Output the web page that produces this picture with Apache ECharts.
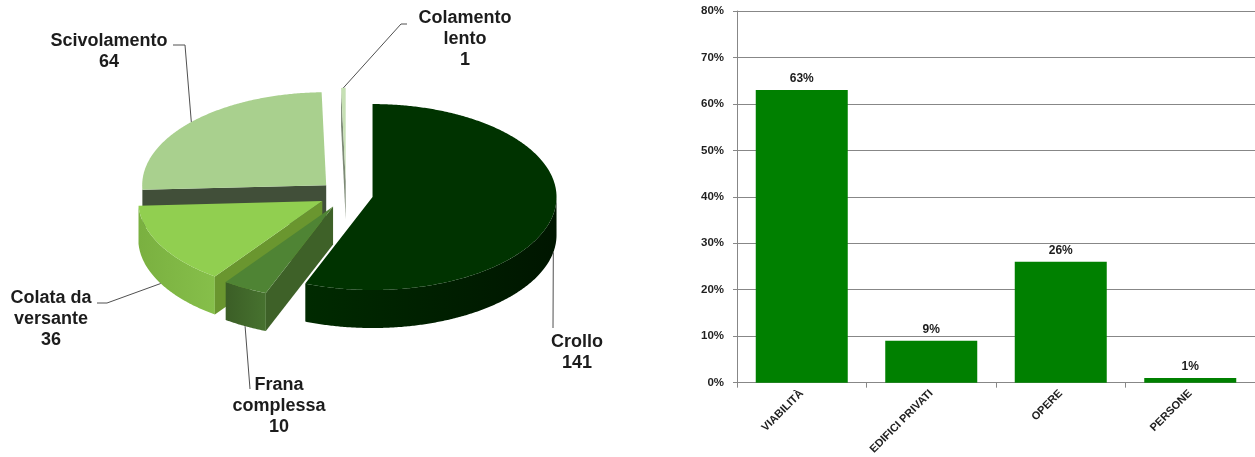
<!DOCTYPE html>
<html>
<head>
<meta charset="utf-8">
<script src="https://cdn.jsdelivr.net/npm/echarts/dist/echarts.min.js"></script>
<style>
  html, body { margin: 0; padding: 0; background: #ffffff; }
  #chart { width: 1255px; height: 457px; }
</style>
</head>
<body>
<div id="chart"></div>
<script>
// Landslide types (counts), clockwise from 12 o'clock
const sliceNames = ['Crollo', 'Frana\ncomplessa', 'Colata da\nversante', 'Scivolamento', 'Colamento\nlento'];
const sliceValues = [141, 10, 36, 64, 1];

// Damage distribution (%)
const damageCategories = ['VIABILITÀ', 'EDIFICI PRIVATI', 'OPERE', 'PERSONE'];
const damageShares = [63, 9, 26, 1];

// 3D exploded pie geometry (pixels)
const PIE = { cx: 346, cy: 194.5, rx: 184, ry: 93, depth: 38, explode: 27 };

// Slice colours: top face, side wall gradient, radial cut face
const sliceStyles = [
  { top: '#003300', wallA: '#002a00', wallB: '#001600', face: '#002400' },
  { top: '#4f8434', wallA: '#3b5e26', wallB: '#47722f', face: '#3e6128' },
  { top: '#91cf50', wallA: '#7ab040', wallB: '#86bf4a', face: '#6a962f' },
  { top: '#a9d08e', wallA: '#7f9f6b', wallB: '#7f9f6b', face: '#414f39' },
  { top: '#c6e0b4', wallA: '#9ab88a', wallB: '#9ab88a', face: '#7d8a76' }
];

// Label blocks and leader bends for each slice
const labelLayout = [
  { text: [577, 331.5], bends: [[553, 328]] },
  { text: [279, 374.5], bends: [[250, 389]] },
  { text: [51, 287.5], bends: [[107, 303], [97, 303]] },
  { text: [109, 31], bends: [[185, 45], [173, 45]] },
  { text: [465, 8], bends: [[401, 24], [407, 24]] }
];

const sliceTotal = sliceValues.reduce((s, v) => s + v, 0);
const sliceStart = [];
sliceValues.reduce((acc, v, i) => { sliceStart[i] = acc; return acc + v; }, 0);

const RAD = Math.PI / 180;
function rimPoint(ox, oy, deg, drop) {
  return [ox + PIE.rx * Math.sin(deg * RAD), oy - PIE.ry * Math.cos(deg * RAD) + (drop || 0)];
}
function arc(ox, oy, a, b, drop) {
  const pts = [];
  const n = Math.max(2, Math.ceil(Math.abs(b - a) / 0.5));
  for (let k = 0; k <= n; k++) pts.push(rimPoint(ox, oy, a + (b - a) * k / n, drop));
  return pts;
}
// side pieces nearer the viewer (lower on screen) are painted later
function depthOrder(points) {
  const cy = points.reduce((s, p) => s + p[1], 0) / points.length;
  return 10 + Math.round(cy / 10);
}

function renderSlice(params, api) {
  const i = params.dataIndex;
  const value = api.value(0);
  const a0 = sliceStart[i] / sliceTotal * 360;
  const a1 = a0 + value / sliceTotal * 360;
  const mid = (a0 + a1) / 2;
  const st = sliceStyles[i];
  const D = PIE.depth;

  // exploded apex
  const ox = PIE.cx + PIE.explode * Math.sin(mid * RAD);
  const oy = PIE.cy - PIE.explode * (PIE.ry / PIE.rx) * Math.cos(mid * RAD);

  const children = [];

  // outer wall: only the front half (90..270 deg) faces the viewer
  const ws = Math.max(a0, 90), we = Math.min(a1, 270);
  if (we > ws) {
    const topArc = arc(ox, oy, ws, we, 0);
    const botArc = arc(ox, oy, we, ws, D);
    const pts = topArc.concat(botArc);
    const xs = topArc.map(p => p[0]);
    const x0 = Math.min.apply(null, xs), x1 = Math.max.apply(null, xs);
    children.push({
      type: 'polygon', z2: depthOrder(pts),
      shape: { points: pts },
      style: {
        fill: {
          type: 'linear', x: x0, y: 0, x2: x1, y2: 0, global: true,
          colorStops: [{ offset: 0, color: st.wallA }, { offset: 1, color: st.wallB }]
        }
      }
    });
  }

  // radial cut faces facing the viewer
  const faceAt = (deg) => {
    const r = rimPoint(ox, oy, deg, 0);
    return [[ox, oy], r, [r[0], r[1] + D], [ox, oy + D]];
  };
  if (Math.sin(a0 * RAD) < -1e-6) {
    const pts = faceAt(a0);
    children.push({ type: 'polygon', z2: depthOrder(pts), shape: { points: pts }, style: { fill: st.face } });
  }
  if (Math.sin(a1 * RAD) > 1e-6) {
    const pts = faceAt(a1);
    children.push({ type: 'polygon', z2: depthOrder(pts), shape: { points: pts }, style: { fill: st.face } });
  }

  // top face
  children.push({
    type: 'polygon', z2: 100,
    shape: { points: [[ox, oy]].concat(arc(ox, oy, a0, a1, 0)) },
    style: { fill: st.top }
  });

  // leader line: rim at mid-angle, dropped to the wall bottom on the front half
  const front = mid > 90 && mid < 270;
  const anchor = rimPoint(ox, oy, mid, front ? D : 0);
  const lay = labelLayout[i];
  children.push({
    type: 'polyline', z2: 120,
    shape: { points: [anchor].concat(lay.bends) },
    style: { stroke: '#505050', lineWidth: 1, fill: null }
  });

  // label block: name and count
  children.push({
    type: 'text', z2: 130,
    style: {
      text: sliceNames[i] + '\n' + value,
      x: lay.text[0], y: lay.text[1],
      align: 'center', textAlign: 'center',
      verticalAlign: 'top', textVerticalAlign: 'top',
      font: 'bold 18px "Liberation Sans", Arial, sans-serif',
      lineHeight: 21,
      fill: '#1c1c1c'
    }
  });

  return { type: 'group', children: children };
}

const chart = echarts.init(document.getElementById('chart'), null, { renderer: 'canvas' });

const axisGray = '#878787';
const labelFont = '"Liberation Sans", Arial, sans-serif';

chart.setOption({
  animation: false,
  backgroundColor: '#ffffff',
  grid: { left: 737, right: 0, top: 11, bottom: 72, containLabel: false },
  xAxis: {
    type: 'category',
    data: damageCategories,
    boundaryGap: true,
    axisLine: { show: true, lineStyle: { color: axisGray, width: 1 } },
    axisTick: { show: true, alignWithLabel: false, length: 5, lineStyle: { color: axisGray } },
    axisLabel: {
      interval: 0, rotate: 45, margin: 9,
      fontFamily: labelFont, fontWeight: 'bold', fontSize: 11, color: '#1f1f1f'
    },
    splitLine: { show: false }
  },
  yAxis: {
    type: 'value',
    min: 0, max: 80, interval: 10,
    axisLine: { show: true, lineStyle: { color: axisGray, width: 1 } },
    axisTick: { show: true, length: 4, lineStyle: { color: axisGray } },
    axisLabel: {
      formatter: '{value}%', margin: 13,
      fontFamily: labelFont, fontWeight: 'bold', fontSize: 11.5, color: '#1f1f1f'
    },
    splitLine: { show: true, lineStyle: { color: axisGray, width: 1 } }
  },
  series: [
    {
      type: 'bar',
      data: damageShares,
      barWidth: 92,
      itemStyle: { color: '#008000' },
      label: {
        show: true, position: 'top', distance: 5,
        formatter: '{c}%',
        fontFamily: labelFont, fontWeight: 'bold', fontSize: 12, color: '#1c1c1c'
      }
    },
    {
      type: 'custom',
      coordinateSystem: 'none',
      data: sliceValues.map(v => [v]),
      renderItem: renderSlice,
      silent: true
    }
  ]
});
</script>
</body>
</html>
